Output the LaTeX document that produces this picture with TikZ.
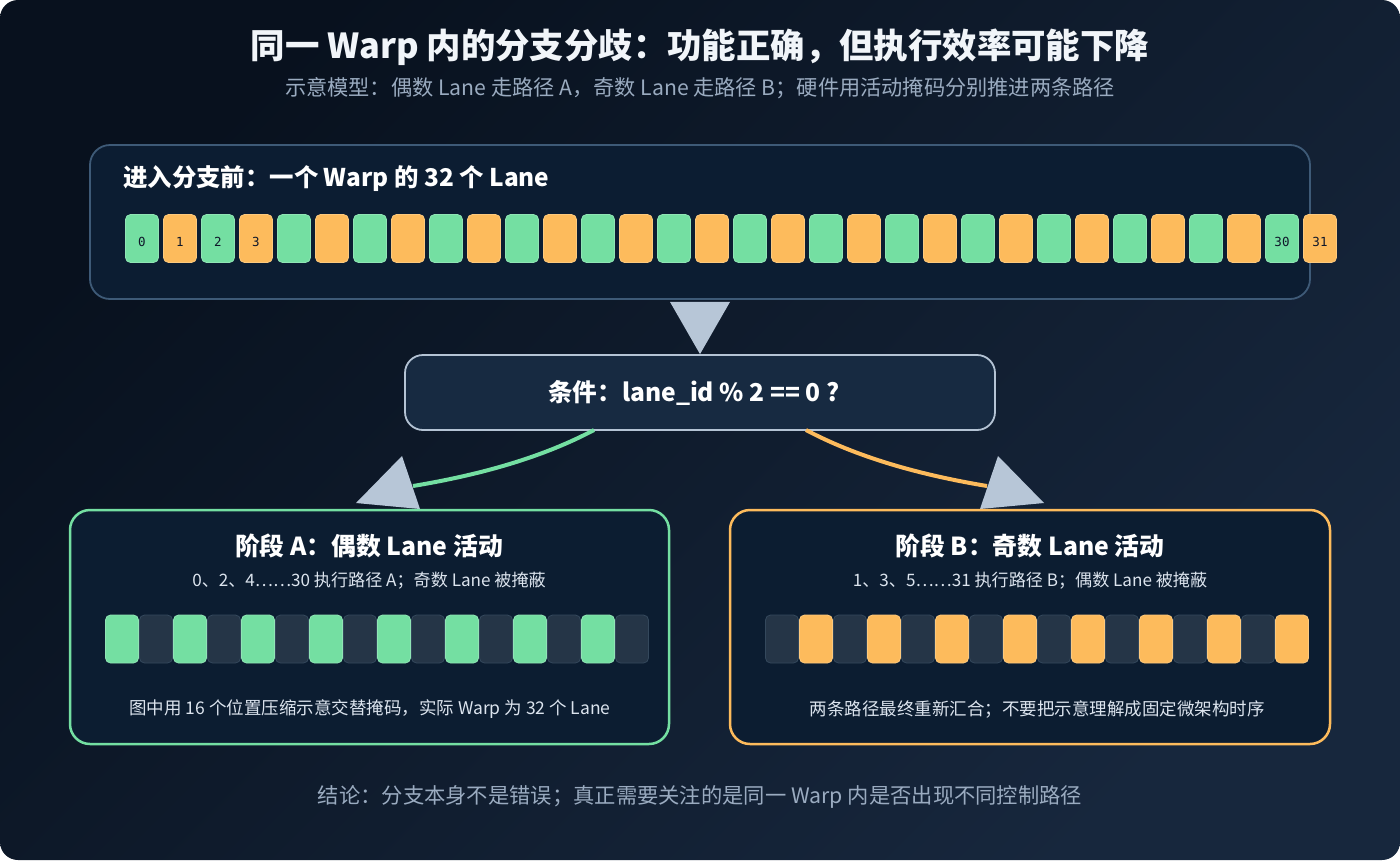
\documentclass[tikz,border=0pt]{standalone}
\usepackage{fontspec}
\setmainfont{Noto Sans CJK SC}
\newfontfamily\monof{DejaVu Sans Mono}
\usetikzlibrary{calc}
\definecolor{bgA}{HTML}{08111E}
\definecolor{bgB}{HTML}{17273D}
\definecolor{titleC}{HTML}{F1F5F9}
\definecolor{subC}{HTML}{9AABC0}
\definecolor{topF}{HTML}{0C1D32}
\definecolor{topS}{HTML}{3E5A77}
\definecolor{condF}{HTML}{172A41}
\definecolor{condS}{HTML}{B4C3D4}
\definecolor{arrC}{HTML}{B7C6D7}
\definecolor{grn}{HTML}{74DFA2}
\definecolor{orng}{HTML}{FDBB5C}
\definecolor{darkC}{HTML}{253547}
\definecolor{darkS}{HTML}{34485C}
\definecolor{phF}{HTML}{0C1D31}
\definecolor{noteC}{HTML}{DCE4EE}
\definecolor{labC}{HTML}{0F172A}
\begin{document}
\begin{tikzpicture}[x=1pt,y=-1pt,
  txt/.style={inner sep=0pt, anchor=center},
  cell/.style={minimum width=33pt, minimum height=48pt, inner sep=0pt, rounded corners=5pt, line width=0.8pt},
  gcell/.style={cell, fill=grn, draw=grn!80!white},
  ocell/.style={cell, fill=orng, draw=orng!80!white},
  dcell/.style={cell, fill=darkC, draw=darkS},
  lab/.style={txt, font=\monof\fontsize{12.5}{12.5}\selectfont, text=labC, yshift=-3pt},
  arr/.style={fill=arrC},
  phase/.style={fill=phF, rounded corners=20pt, line width=2.5pt, inner sep=0pt},
  phtitle/.style={txt, font=\bfseries\fontsize{24.8}{28}\selectfont, text=white},
  phsub/.style={txt, font=\fontsize{17.1}{20}\selectfont, text=noteC},
  phnote/.style={txt, font=\fontsize{17.5}{20}\selectfont, text=noteC},
]
\useasboundingbox (0,0) rectangle (1400,860);
\fill[white] (0,0) rectangle (1400,860);
\shade[rounded corners=18pt, top color=bgA, bottom color=bgB, shading angle=45] (0,0) rectangle (1400,860);

% title
\node[txt, font=\bfseries\fontsize{34.4}{40}\selectfont, text=titleC] (title) at (700,47) {同一 Warp 内的分支分歧：功能正确，但执行效率可能下降};
\node[txt, font=\fontsize{21.2}{24}\selectfont, text=subC] (subtitle) at (700,88) {示意模型：偶数 Lane 走路径 A，奇数 Lane 走路径 B；硬件用活动掩码分别推进两条路径};

% top box
\node[draw=topS, fill=topF, line width=1.8pt, rounded corners=20pt, minimum width=1220pt, minimum height=154pt, inner sep=0pt] (pre) at (700,222) {};
\node[txt, anchor=west, font=\bfseries\fontsize{24.4}{28}\selectfont, text=white] (prehdr) at (123,179) {进入分支前：一个 Warp 的 32 个 Lane};
\foreach \i in {0,...,31}{
  \ifodd\i\relax
    \node[ocell] (L\i) at ({142+38*\i},238.5) {};
  \else
    \node[gcell] (L\i) at ({142+38*\i},238.5) {};
  \fi
}
\node[lab] at (L0) {0};
\node[lab] at (L1) {1};
\node[lab] at (L2) {2};
\node[lab] at (L3) {3};
\node[lab] at (L30) {30};
\node[lab] at (L31) {31};

% condition box
\node[draw=condS, fill=condF, line width=1.8pt, rounded corners=18pt, minimum width=590pt, minimum height=75pt, inner sep=0pt] (cond) at (700,392.5) {};
\node[txt, font=\bfseries\fontsize{24.6}{28}\selectfont, text=white] (condtxt) at (694,393) {条件：lane\_id \% 2 == 0 ?};

% top arrow
\fill[arr] ($(pre.south)+(-30,2)$) -- ($(pre.south)+(30,2)$) -- (cond.north) -- cycle;

% branch connectors
\coordinate (gs) at (594,430);
\coordinate (ge) at (413,486);
\coordinate (os) at (806,430);
\coordinate (oe) at (987,486);
\draw[grn, line width=4pt] (gs) .. controls (545,456) and (485,474) .. (ge);
\draw[orng, line width=4pt] (os) .. controls (855,456) and (915,474) .. (oe);
\fill[arr] (402,456) -- (420,509) -- (356,503) -- cycle;
\fill[arr] (998,456) -- (980,509) -- (1044,503) -- cycle;

% phase A
\node[phase, draw=grn, minimum width=599pt, minimum height=234pt] (pa) at (369.5,627) {};
\node[phtitle] (patitle) at (369,546) {阶段 A：偶数 Lane 活动};
\node[phsub] (pasub) at (369,581) {0、2、4……30 执行路径 A；奇数 Lane 被掩蔽};
\foreach \i in {0,...,15}{
  \ifodd\i\relax
    \node[dcell] (A\i) at ({122+34*\i},639) {};
  \else
    \node[gcell] (A\i) at ({122+34*\i},639) {};
  \fi
}
\node[phnote] (panote) at (370,709) {图中用 16 个位置压缩示意交替掩码，实际 Warp 为 32 个 Lane};

% phase B
\node[phase, draw=orng, minimum width=600pt, minimum height=234pt] (pb) at (1030,627) {};
\node[phtitle] (pbtitle) at (1030,546) {阶段 B：奇数 Lane 活动};
\node[phsub] (pbsub) at (1030,581) {1、3、5……31 执行路径 B；偶数 Lane 被掩蔽};
\foreach \i in {0,...,15}{
  \ifodd\i\relax
    \node[ocell] (B\i) at ({782+34*\i},639) {};
  \else
    \node[dcell] (B\i) at ({782+34*\i},639) {};
  \fi
}
\node[phnote] (pbnote) at (1037,709) {两条路径最终重新汇合；不要把示意理解成固定微架构时序};

% conclusion
\node[txt, font=\fontsize{21.3}{24}\selectfont, text=subC] (concl) at (700,797) {结论：分支本身不是错误；真正需要关注的是同一 Warp 内是否出现不同控制路径};
\end{tikzpicture}
\end{document}
